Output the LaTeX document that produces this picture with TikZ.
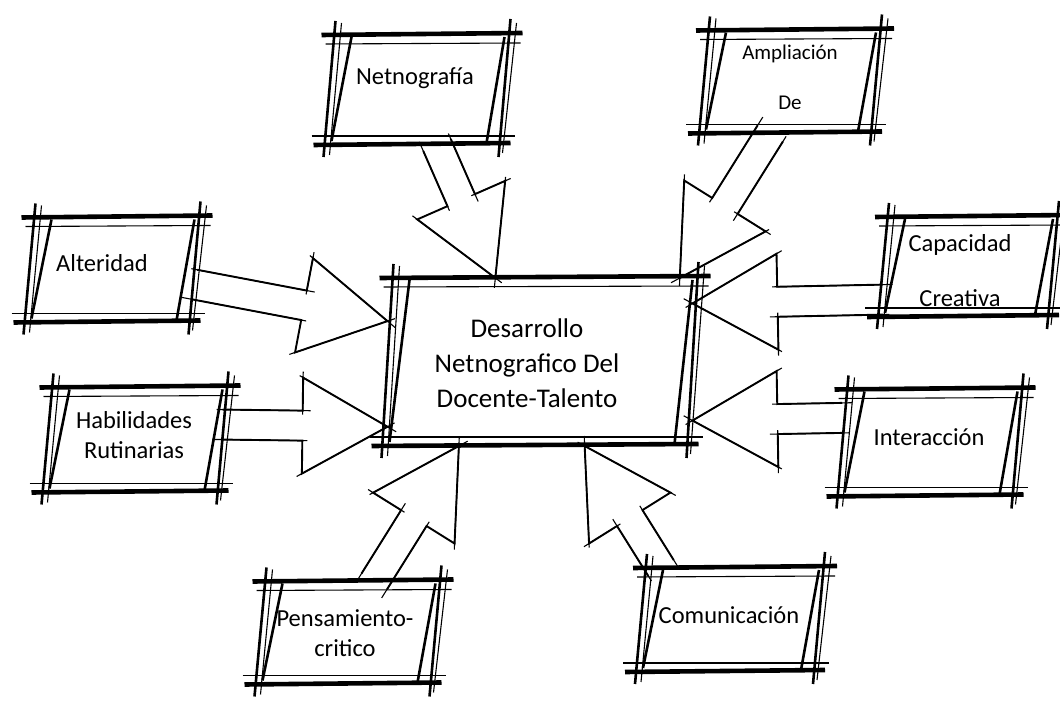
\documentclass[tikz,border=0pt]{standalone}
\usepackage{fontspec}
\setmainfont{Carlito}
\usetikzlibrary{calc}

\tikzset{
  frame/.style={inner sep=0pt, outer sep=0pt},
  boxtext/.style={font=\fontsize{24.5}{30}\selectfont, align=center, inner sep=0pt},
  coretext/.style={font=\fontsize{27}{35}\selectfont, align=center, inner sep=0pt},
  heavy/.style={line width=4.6pt},
  medium/.style={line width=2.6pt},
  fine/.style={line width=1.1pt},
  arrowline/.style={line width=1.9pt, line join=miter},
}

% rough hand drawn frame round a node
\newcommand{\sketchframe}[1]{%
  \draw[heavy] ($(#1.north west)+(-8,0)$) -- ($(#1.north east)+(18,2)$);
  \draw[fine] ($(#1.north west)+(-4,-9)$) -- ($(#1.north east)+(16,-8)$);
  \draw[heavy] ($(#1.south west)+(-16,0)$) -- ($(#1.south east)+(6,2)$);
  \draw[fine] ($(#1.south west)+(-18,9)$) -- ($(#1.south east)+(10,9)$);
  \draw[medium] ($(#1.north west)+(6,14)$) -- ($(#1.south west)+(-6,-12)$);
  \draw[fine] ($(#1.north west)+(12,12)$) -- ($(#1.south west)+(0,-10)$);
  \draw[medium] ($(#1.north west)+(22,-2)$) -- ($(#1.south west)+(2,4)$);
  \draw[medium] ($(#1.north east)+(6,16)$) -- ($(#1.south east)+(-6,-12)$);
  \draw[fine] ($(#1.north east)+(12,12)$) -- ($(#1.south east)+(-2,-8)$);
  \draw[medium] ($(#1.north east)+(0,-2)$) -- ($(#1.south east)+(-18,2)$);
}

% hollow block arrow from #1 to #2
\newcommand{\flecha}[2]{%
  \coordinate (hb) at ($(#2)!85pt!(#1)$);
  \coordinate (t1) at ($(#1)!15pt!90:(#2)$);
  \coordinate (t2) at ($(#1)!15pt!-90:(#2)$);
  \coordinate (s1) at ($(hb)!15pt!90:(#2)$);
  \coordinate (s2) at ($(hb)!15pt!-90:(#2)$);
  \coordinate (h1) at ($(hb)!48pt!90:(#2)$);
  \coordinate (h2) at ($(hb)!48pt!-90:(#2)$);
  \draw[arrowline] (t1) -- (s1) -- (h1) -- (#2) -- (h2) -- (s2) -- (t2);
  \draw[fine] ($(t1)!-6pt!(s1)$) -- ($(s1)!-8pt!(t1)$);
  \draw[fine] ($(t2)!-10pt!(s2)$) -- ($(s2)!-5pt!(t2)$);
  \draw[fine] ($(h1)!-4pt!(#2)$) -- ($(#2)!-10pt!(h1)$);
  \draw[fine] ($(h2)!-6pt!(#2)$) -- ($(#2)!-8pt!(h2)$);
  \draw[fine] ($(h1)!-6pt!(hb)$) -- ($(s1)!-4pt!(h1)$);
}

\begin{document}
\begin{tikzpicture}[x=1pt,y=1pt]
  \useasboundingbox (0,0) rectangle (1060,701);

  %%% frames
  \node[frame, minimum width=305, minimum height=168] (core) at (540,339) {};
  \node[frame, minimum width=175, minimum height=110] (net) at (417,611) {};
  \node[frame, minimum width=172, minimum height=103] (amp) at (790,619) {};
  \node[frame, minimum width=165, minimum height=105] (alt) at (112,431) {};
  \node[frame, minimum width=170, minimum height=100] (cap) at (968,434) {};
  \node[frame, minimum width=175, minimum height=105] (hab) at (135,261) {};
  \node[frame, minimum width=175, minimum height=107] (inter) at (930,258) {};
  \node[frame, minimum width=175, minimum height=103] (pen) at (348,68) {};
  \node[frame, minimum width=178, minimum height=104] (com) at (730,81) {};

  \foreach \b in {core,net,amp,alt,cap,hab,inter,pen,com} {
    \sketchframe{\b}
  }

  %%% texts
  \node[coretext] (coreT) at (527,338) {Desarrollo\\Netnografico Del\\Docente-Talento};
  \node[boxtext] (netT) at (415,623) {Netnografía};
  \node[boxtext, font=\fontsize{21}{24}\selectfont] (ampT) at (790,624) {Ampliación\\[26pt]De};
  \node[boxtext] (altT) at (102,438) {Alteridad};
  \node[boxtext] (capT) at (960,430) {Capacidad\\[25pt]Creativa};
  \node[boxtext] (habT) at (134,266) {Habilidades\\Rutinarias};
  \node[boxtext] (interT) at (929,264) {Interacción};
  \node[boxtext] (penT) at (345,68) {Pensamiento-\\critico};
  \node[boxtext] (comT) at (729,86) {Comunicación};

  %%% arrows
  \flecha{net.-70}{core.118}
  \flecha{amp.-111}{core.31}
  \flecha{alt.-10}{core.165}
  \flecha{cap.201}{core.21}
  \flecha{hab.10}{core.-157}
  \flecha{inter.164}{core.-21}
  \flecha{pen.63}{core.-134}
  \flecha{com.143}{core.-62}
\end{tikzpicture}
\end{document}
